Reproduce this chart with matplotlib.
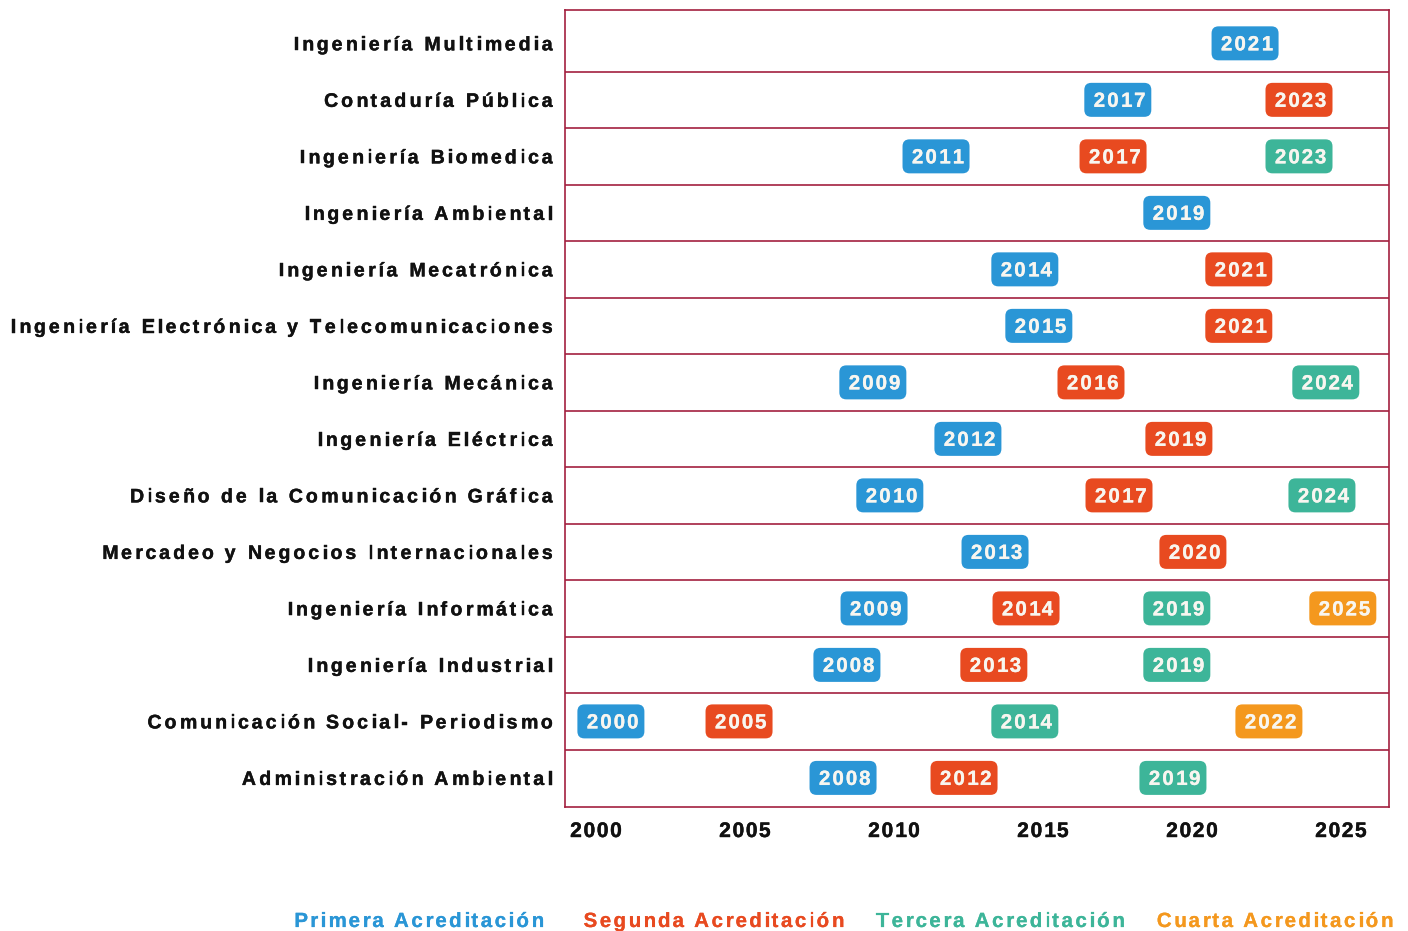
import matplotlib
matplotlib.use("Agg")
import matplotlib.pyplot as plt
import matplotlib.patheffects as pe
from matplotlib.patches import FancyBboxPatch
from matplotlib.transforms import IdentityTransform
from matplotlib.font_manager import FontProperties, findfont, get_font
try:
    from matplotlib.ft2font import LoadFlags
    NO_HINT = LoadFlags.NO_HINTING
except ImportError:
    from matplotlib.ft2font import LOAD_NO_HINTING as NO_HINT

# programas, de arriba hacia abajo
programas = [
    "Ingeniería Multimedia",
    "Contaduría Pública",
    "Ingeniería Biomedica",
    "Ingeniería Ambiental",
    "Ingeniería Mecatrónica",
    "Ingeniería Electrónica y Telecomunicaciones",
    "Ingeniería Mecánica",
    "Ingeniería Eléctrica",
    "Diseño de la Comunicación Gráfica",
    "Mercadeo y Negocios Internacionales",
    "Ingeniería Informática",
    "Ingeniería Industrial",
    "Comunicación Social- Periodismo",
    "Administración Ambiental",
]

# año mostrado en cada etiqueta y fecha (año decimal) donde va ubicada
anios_1 = [2021, 2017, 2011, 2019, 2014, 2015, 2009, 2012, 2010, 2013, 2009, 2008, 2000, 2008]
fecha_1 = [2021.84, 2017.57, 2011.47, 2019.55, 2014.45, 2014.92, 2009.35, 2012.54,
           2009.92, 2013.45, 2009.39, 2008.48, 2000.56, 2008.35]
anios_2 = [None, 2023, 2017, None, 2021, 2021, 2016, 2019, 2017, 2020, 2014, 2013, 2005, 2012]
fecha_2 = [None, 2023.65, 2017.41, None, 2021.63, 2021.63, 2016.67, 2019.62,
           2017.61, 2020.09, 2014.49, 2013.41, 2004.86, 2012.41]
anios_3 = [None, None, 2023, None, None, None, 2024, None, 2024, None, 2019, 2019, 2014, 2019]
fecha_3 = [None, None, 2023.65, None, None, None, 2024.55, None,
           2024.42, None, 2019.55, 2019.55, 2014.45, 2019.42]
anios_4 = [None, None, None, None, None, None, None, None, None, None, 2025, None, 2022, None]
fecha_4 = [None, None, None, None, None, None, None, None, None, None, 2025.12, None, 2022.64, None]

ticks = [2000, 2005, 2010, 2015, 2020, 2025]
leyenda = ["Primera Acreditación", "Segunda Acreditación", "Tercera Acreditación", "Cuarta Acreditación"]
colores = ["#2a96d6", "#e84a20", "#3db599", "#f4981e"]
linea = "#a3203f"

W, H, DPI = 1408, 931, 100
fig = plt.figure(figsize=(W / DPI, H / DPI), dpi=DPI)
ax = fig.add_axes([565 / W, 1 - 807 / H, (1389 - 565) / W, (807 - 10) / H])
ax.set_xlim(1999.02, 2026.67)
ax.set_ylim(14.015, -0.09)
ax.set_xticks([])
ax.set_yticks([])
for s in ax.spines.values():
    s.set_color(linea)
    s.set_linewidth(1.2)
for i in range(1, len(programas)):
    ax.axhline(i, color=linea, lw=1.2)


def texto(x, y, s, size_px, spacing, color, ha="left", grosor=0.3):
    # texto con espaciado entre letras; x, y en pixeles de pantalla, y = linea base
    prop = FontProperties(family="Liberation Sans", weight="bold", size=size_px * 72 / DPI)
    font = get_font(findfont(prop))
    font.set_size(size_px, 72)
    glifos = [font.load_char(ord(c), flags=NO_HINT) for c in s]
    adv = [g.linearHoriAdvance / 65536 for g in glifos]
    bear = [g.horiBearingX / 64 for g in glifos]
    total = sum(adv) + spacing * (len(s) - 1)
    x0 = x - total if ha == "right" else (x - total / 2 if ha == "center" else x)
    efecto = [pe.withStroke(linewidth=grosor, foreground=color)]
    for c, a, b in zip(s, adv, bear):
        if c != " ":
            fig.text(x0 + b, y, c, fontproperties=prop, color=color,
                     ha="left", va="baseline", transform=IdentityTransform(),
                     path_effects=efecto)
        x0 += a + spacing


# etiquetas de los programas
for i, p in enumerate(programas):
    _, yc = ax.transData.transform((2000, i + 0.5))
    texto(552, yc - 7, p, 19.5, 3.0, "#111111", ha="right", grosor=0.3)

# etiquetas de año
series = [(anios_1, fecha_1), (anios_2, fecha_2), (anios_3, fecha_3), (anios_4, fecha_4)]
for k, (anios, fechas) in enumerate(series):
    for i, (a, f) in enumerate(zip(anios, fechas)):
        if a is None:
            continue
        xc, yc = ax.transData.transform((f, i + 0.5))
        caja = FancyBboxPatch((xc - 26.5, yc - 10), 53, 20,
                              boxstyle="round,pad=7,rounding_size=7",
                              fc=colores[k], ec="none", transform=IdentityTransform())
        fig.add_artist(caja)
        texto(xc + 1, yc - 7, str(a), 20.5, 2.0, "#f8f6f0", ha="center", grosor=0.2)

# eje x
for t in ticks:
    xc, _ = ax.transData.transform((t, 0))
    texto(xc + 1, H - 837, str(t), 21, 1.6, "#111111", ha="center", grosor=0.3)

# leyenda
pos_leyenda = [293, 583, 876, 1156]
for lbl, c, xl in zip(leyenda, colores, pos_leyenda):
    texto(xl, H - 927, lbl, 20.5, 2.3, c, grosor=0.15)

plt.savefig("out.png", dpi=DPI)
